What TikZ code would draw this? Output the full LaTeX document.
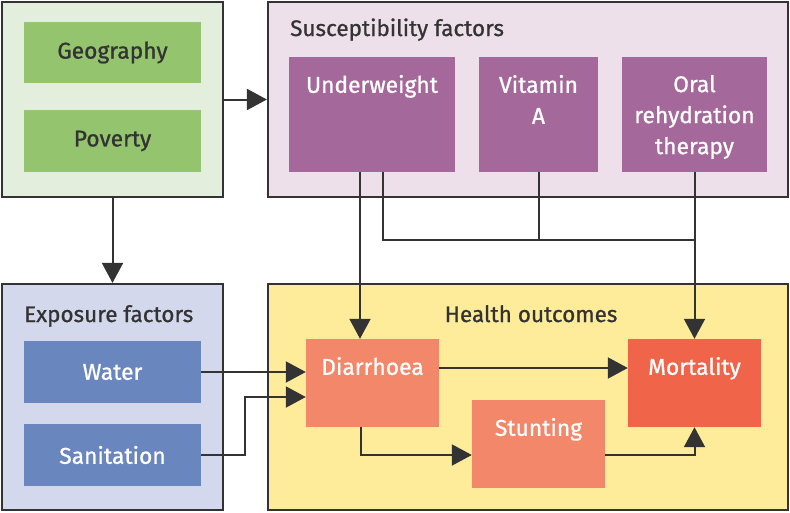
\documentclass[tikz,border=0pt]{standalone}
\usepackage{fontspec}
\setmainfont{Fira Sans}[FakeBold=0.9]
\usetikzlibrary{arrows.meta}
\definecolor{edge}{HTML}{333333}
\definecolor{envback}{HTML}{E3EFDC}
\definecolor{envfill}{HTML}{95C46F}
\definecolor{suscback}{HTML}{EEE0EB}
\definecolor{suscfill}{HTML}{A5689A}
\definecolor{expoback}{HTML}{D3D8EC}
\definecolor{expofill}{HTML}{6A86BF}
\definecolor{healthback}{HTML}{FEEC9A}
\definecolor{healthfill}{HTML}{F3876A}
\definecolor{mortfill}{HTML}{F06449}
\begin{document}
\begin{tikzpicture}[x=1pt,y=-1pt,
    outer/.style={draw=edge,line width=2.2pt,inner sep=0pt},
    inbox/.style={inner sep=0pt,align=center,font=\fontsize{22.8}{31}\selectfont},
    toptext/.style={anchor=north,inner sep=0pt,yshift=-18pt,text=white,align=center,font=\fontsize{22.8}{31}\selectfont},
    title/.style={inner sep=0pt,text=edge,font=\fontsize{22.5}{24}\selectfont},
    link/.style={draw=edge,line width=2pt},
    arr/.style={link,-{Triangle[length=20pt,width=21pt]}}]
    \useasboundingbox (0,0) rectangle (790,512);
    \node[outer,fill=envback,minimum width=221,minimum height=195] (env) at (112.5,99.5) {};
    \node[outer,fill=suscback,minimum width=520,minimum height=195] (susc) at (528,99.5) {};
    \node[outer,fill=expoback,minimum width=221,minimum height=226] (expo) at (112.5,397) {};
    \node[outer,fill=healthback,minimum width=520,minimum height=226] (health) at (528,397) {};
    \node[title,anchor=base west] (susctitle) at (290,36) {Susceptibility factors};
    \node[title,anchor=base west] (expotitle) at (24,322) {Exposure factors};
    \node[title,anchor=base] (healthtitle) at (531,322) {Health outcomes};
    \node[inbox,fill=envfill,text=edge,minimum width=177,minimum height=61] (geo) at (112.5,52.5) {Geography};
    \node[inbox,fill=envfill,text=edge,minimum width=177,minimum height=62] (pov) at (112.5,141) {Poverty};
    \node[inbox,fill=expofill,text=white,minimum width=177,minimum height=62] (water) at (112.5,372) {Water};
    \node[inbox,fill=expofill,text=white,minimum width=177,minimum height=62] (san) at (112.5,455) {Sanitation};
    \node[inbox,fill=suscfill,minimum width=166,minimum height=115,label={[toptext]north:Underweight}] (uw) at (372,114.5) {};
    \node[inbox,fill=suscfill,minimum width=119,minimum height=115,label={[toptext]north:Vitamin\\A}] (vita) at (538.5,114.5) {};
    \node[inbox,fill=suscfill,minimum width=145,minimum height=115,label={[toptext]north:Oral\\rehydration\\therapy}] (ort) at (694.5,114.5) {};
    \node[inbox,fill=healthfill,minimum width=133,minimum height=88,label={[toptext]north:Diarrhoea}] (diar) at (372.5,383) {};
    \node[inbox,fill=healthfill,minimum width=133,minimum height=88,label={[toptext]north:Stunting}] (stunt) at (538.5,444) {};
    \node[inbox,fill=mortfill,minimum width=133,minimum height=88,label={[toptext]north:Mortality}] (mort) at (694.5,383) {};
    \coordinate (join) at (694.5,240);
    \draw[arr] (env.east) -- (susc.west);
    \draw[arr] (env.south) -- (expo.north);
    \draw[arr] ([xshift=-12pt]uw.south) -- ([xshift=-12pt]uw.south |- diar.north);
    \draw[link] ([xshift=11pt]uw.south) |- (join);
    \draw[link] (vita.south) -- (vita.south |- join);
    \draw[arr] (ort.south) -- (mort.north);
    \draw[arr] (water.east) -- (water.east -| diar.west);
    \draw[arr] (san.east) -- ++(44,0) |- ([yshift=-14pt]diar.west);
    \draw[arr] ([yshift=15pt]diar.east) -- ([yshift=15pt]diar.east -| mort.west);
    \draw[arr] ([xshift=-12pt]diar.south) |- ([yshift=-11pt]stunt.west);
    \draw[arr] ([yshift=-11pt]stunt.east) -| (mort.south);
\end{tikzpicture}
\end{document}
